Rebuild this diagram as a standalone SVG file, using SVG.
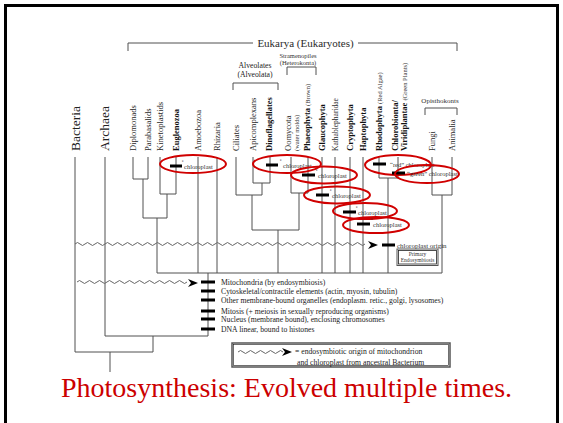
<svg xmlns="http://www.w3.org/2000/svg" width="563" height="423" viewBox="0 0 563 423">
  <defs>
    <style>
      .ln { fill: none; stroke: #505050; stroke-width: 1; }
      .wave { fill: none; stroke: #666; stroke-width: 1; }
      .bar { stroke: #000; stroke-width: 3; }
      .lab { font-family: "Liberation Serif", "Times New Roman", serif; font-size: 8.5px; fill: #2a2a2a; }
      .b { font-weight: bold; fill: #111; }
      .sm { font-family: "Liberation Serif", "Times New Roman", serif; font-size: 6.5px; fill: #333; }
      .big { font-family: "Liberation Serif", "Times New Roman", serif; font-size: 13.5px; fill: #222; }
      .note { font-family: "Liberation Serif", "Times New Roman", serif; font-size: 7.7px; fill: #222; }
      .ring { fill: none; stroke: #d00000; stroke-width: 2; }
      .head { fill: #000; }
    </style>
    <path id="arrowhead" d="M0,-4 L10,0 L0,4 L3,0 Z"/>
  </defs>

  <rect width="563" height="423" fill="#fff"/>
  <!-- slide frame -->
  <path d="M5.5,430 V5.5 H557.5 V430" fill="none" stroke="#000" stroke-width="3"/>

  <!-- clade brackets -->
  <g id="eukarya">
    <path class="ln" d="M128,51 V43 H253 M358,43 H457 V51" stroke-width="1.5"/>
    <text class="lab" x="305.5" y="47" text-anchor="middle" style="font-size:11px">Eukarya (Eukaryotes)</text>
  </g>
  <g id="alveolates">
    <path class="ln" d="M233,90 V83 H278 V90" stroke-width="1.5"/>
    <text class="note" x="255" y="68" text-anchor="middle">Alveolates</text>
    <text class="note" x="255" y="77" text-anchor="middle">(Alveolata)</text>
  </g>
  <g id="stramenopiles">
    <path class="ln" d="M287,75 V67 H316 V75" stroke-width="1.5"/>
    <text class="sm" x="298" y="57.5" text-anchor="middle">Stramenopiles</text>
    <text class="sm" x="298" y="64.5" text-anchor="middle">(Heterokonta)</text>
  </g>
  <g id="opisthokonts">
    <path class="ln" d="M425,115 V108 H457 V115" stroke-width="1.5"/>
    <text class="sm" x="440" y="103" text-anchor="middle" style="font-size:7px">Opisthokonts</text>
  </g>

  <!-- taxon labels, written bottom to top -->
  <g id="taxa">
    <g id="bacteria"><text class="big" transform="translate(80,151) rotate(-90)">Bacteria</text></g>
    <g id="archaea"><text class="big" transform="translate(109,151) rotate(-90)">Archaea</text></g>
    <g id="diplomonads"><text class="lab" transform="translate(135.5,151) rotate(-90)">Diplomonads</text></g>
    <g id="parabasalids"><text class="lab" transform="translate(150.5,151) rotate(-90)">Parabasalids</text></g>
    <g id="kinetoplastids"><text class="lab" transform="translate(162.5,151) rotate(-90)">Kinetoplastids</text></g>
    <g id="euglenozoa"><text class="lab b" transform="translate(178.5,151) rotate(-90)">Euglenozoa</text></g>
    <g id="amoebozoa"><text class="lab" transform="translate(200.5,151) rotate(-90)">Amoebozoa</text></g>
    <g id="rhizaria"><text class="lab" transform="translate(219.5,151) rotate(-90)">Rhizaria</text></g>
    <g id="ciliates"><text class="lab" transform="translate(238.5,151) rotate(-90)">Ciliates</text></g>
    <g id="apicomplexans"><text class="lab" transform="translate(255.5,151) rotate(-90)">Apicomplexans</text></g>
    <g id="dinoflagellates"><text class="lab b" transform="translate(272,151) rotate(-90)">Dinoflagellates</text></g>
    <g id="oomycota">
      <text class="lab" transform="translate(290.5,151) rotate(-90)">Oomycota</text>
      <text class="sm" transform="translate(299,151) rotate(-90)">(water molds)</text>
    </g>
    <g id="phaeophyta"><text class="lab b" transform="translate(309.5,151) rotate(-90)">Phaeophyta <tspan class="sm" style="font-weight:normal">(Brown)</tspan></text></g>
    <g id="glaucophyta"><text class="lab b" transform="translate(324.5,151) rotate(-90)">Glaucophyta</text></g>
    <g id="kathablepharidae"><text class="lab" transform="translate(337.5,151) rotate(-90)" style="font-size:7.5px">Kathablepharidae</text></g>
    <g id="cryptophyta"><text class="lab b" transform="translate(352.5,151) rotate(-90)">Cryptophyta</text></g>
    <g id="haptophyta"><text class="lab b" transform="translate(365.5,151) rotate(-90)">Haptophyta</text></g>
    <g id="rhodophyta"><text class="lab b" transform="translate(381.5,151) rotate(-90)">Rhodophyta <tspan class="sm" style="font-weight:normal">(Red Algae)</tspan></text></g>
    <g id="chlorobionta">
      <text class="lab b" transform="translate(398,151) rotate(-90)">Chlorobionta/</text>
      <text class="lab b" transform="translate(407,151) rotate(-90)">Viridiplantae <tspan class="sm" style="font-weight:normal">(Green Plants)</tspan></text>
    </g>
    <g id="fungi"><text class="lab" transform="translate(434.5,151) rotate(-90)">Fungi</text></g>
    <g id="animalia"><text class="lab" transform="translate(454.5,151) rotate(-90)">Animalia</text></g>
  </g>

  <!-- tree branches -->
  <g id="connectors">
    <path class="ln" d="
      M75,157 V352 H153 M110,352 V372
      M105,157 V336 H208 M153,336 V352
      M208,273 V336
      M133,157 V179 H148 V157 M143,179 V218
      M160,157 V194 H176 V157 M167,194 V218
      M143,218 H167 M157,218 V273
      M198,157 V273 M217,157 V273
      M253,157 V183 H270 V157 M262,183 V195
      M236,157 V195 H262 M252,195 V230
      M291,157 V193 H308 V157 M299,193 V230
      M252,230 H299 M278,230 V273
      M322,157 V273 M335,157 V273 M350,157 V273 M363,157 V273
      M379,157 V178 H398 V157 M388,178 V273
      M432,157 V195 H452 V157 M442,195 V273
      M157,273 H442"/>
  </g>

  <!-- endosymbiosis waves -->
  <g id="waves">
    <path class="wave" d="M75,244 q2.5,-3 5,0 t5,0 t5,0 t5,0 t5,0 t5,0 t5,0 t5,0 t5,0 t5,0 t5,0 t5,0 t5,0 t5,0 t5,0 t5,0 t5,0 t5,0 t5,0 t5,0 t5,0 t5,0 t5,0 t5,0 t5,0 t5,0 t5,0 t5,0 t5,0 t5,0 t5,0 t5,0 t5,0 t5,0 t5,0 t5,0 t5,0 t5,0 t5,0 t5,0 t5,0 t5,0 t5,0 t5,0 t5,0 t5,0 t5,0 t5,0 t5,0 t5,0 t5,0 t5,0 t5,0 t5,0 t5,0 t5,0 t5,0 t5,0"/>
    <use href="#arrowhead" class="head" transform="translate(368,245)"/>
    <path class="wave" d="M77,282 q2.5,-3 5,0 t5,0 t5,0 t5,0 t5,0 t5,0 t5,0 t5,0 t5,0 t5,0 t5,0 t5,0 t5,0 t5,0 t5,0 t5,0 t5,0 t5,0 t5,0 t5,0 t5,0 t5,0"/>
    <use href="#arrowhead" class="head" transform="translate(188,283)"/>
  </g>

  <!-- chloroplast origin -->
  <g id="chloroplast-origin">
    <line class="bar" x1="382" y1="245" x2="395" y2="245"/>
    <text class="sm" x="397" y="247.5" style="font-size:7px">chloroplast origin</text>
  </g>
  <g id="primary-endosymbiosis">
    <rect x="397" y="249" width="41" height="16.5" fill="#fff" stroke="#555" stroke-width="1"/>
    <rect x="398.5" y="250.5" width="38" height="13.5" fill="none" stroke="#222" stroke-width="0.8"/>
    <text class="sm" x="417.5" y="256" text-anchor="middle" style="font-size:5.5px">Primary</text>
    <text class="sm" x="417.5" y="262" text-anchor="middle" style="font-size:5.5px">Endosymbiosis</text>
  </g>

  <!-- chloroplast gains, ringed -->
  <g id="cp-euglenozoa">
    <line class="bar" x1="170" y1="166" x2="182" y2="166"/>
    <text class="sm" x="184" y="169">chloroplast</text>
    <text class="sm" x="182" y="162" style="font-size:4.5px">e</text>
    <ellipse class="ring" cx="193" cy="164" rx="33" ry="9"/>
  </g>
  <g id="cp-dinoflagellates">
    <line class="bar" x1="266" y1="165" x2="278" y2="165"/>
    <text class="sm" x="283" y="168">chloroplast</text>
    <text class="sm" x="280" y="161" style="font-size:4.5px">e</text>
    <ellipse class="ring" cx="287" cy="164" rx="34" ry="9"/>
  </g>
  <g id="cp-phaeophyta">
    <line class="bar" x1="302" y1="175" x2="315" y2="175"/>
    <text class="sm" x="318" y="178">chloroplast</text>
    <text class="sm" x="316" y="171" style="font-size:4.5px">e</text>
    <ellipse class="ring" cx="324" cy="175" rx="33" ry="8.5"/>
  </g>
  <g id="cp-glaucophyta">
    <line class="bar" x1="316" y1="195" x2="329" y2="195"/>
    <text class="sm" x="332" y="198">chloroplast</text>
    <text class="sm" x="330" y="191" style="font-size:4.5px">e</text>
    <ellipse class="ring" cx="337" cy="195" rx="33" ry="8.5"/>
  </g>
  <g id="cp-cryptophyta">
    <line class="bar" x1="343" y1="212" x2="356" y2="212"/>
    <text class="sm" x="358" y="215">chloroplast</text>
    <text class="sm" x="356" y="208" style="font-size:4.5px">e</text>
    <ellipse class="ring" cx="365" cy="211" rx="32" ry="8"/>
  </g>
  <g id="cp-haptophyta">
    <line class="bar" x1="357" y1="224" x2="370" y2="224"/>
    <text class="sm" x="373" y="227">chloroplast</text>
    <text class="sm" x="371" y="220" style="font-size:4.5px">e</text>
    <ellipse class="ring" cx="376" cy="225" rx="33" ry="8"/>
  </g>
  <g id="cp-rhodophyta">
    <line class="bar" x1="373" y1="164" x2="386" y2="164"/>
    <text class="sm" x="390" y="167">“red” chloroplast</text>
    <ellipse class="ring" cx="398" cy="165" rx="33" ry="10"/>
  </g>
  <g id="cp-chlorobionta">
    <line class="bar" x1="392" y1="173" x2="405" y2="173"/>
    <text class="sm" x="407" y="176">“green” chloroplast</text>
    <ellipse class="ring" cx="427" cy="174" rx="32" ry="9"/>
  </g>

  <!-- eukaryote traits on the stem -->
  <g id="traits">
    <line class="bar" x1="201" y1="282" x2="215" y2="282"/>
    <line class="bar" x1="201" y1="291" x2="215" y2="291"/>
    <line class="bar" x1="201" y1="300" x2="215" y2="300"/>
    <line class="bar" x1="201" y1="311" x2="215" y2="311"/>
    <line class="bar" x1="201" y1="319" x2="215" y2="319"/>
    <line class="bar" x1="201" y1="329" x2="215" y2="329"/>
    <text class="note" x="221" y="285">Mitochondria (by endosymbiosis)</text>
    <text class="note" x="221" y="294">Cytoskeletal/contractile elements (actin, myosin, tubulin)</text>
    <text class="note" x="221" y="303">Other membrane-bound organelles (endoplasm. retic., golgi, lysosomes)</text>
    <text class="note" x="221" y="313.5">Mitosis (+ meiosis in sexually reproducing organisms)</text>
    <text class="note" x="221" y="322">Nucleus (membrane bound), enclosing chromosomes</text>
    <text class="note" x="221" y="331.5">DNA linear, bound to histones</text>
  </g>

  <!-- legend -->
  <g id="legend">
    <rect x="232" y="343" width="218" height="24" fill="#fff" stroke="#555" stroke-width="1.5"/>
    <rect x="233.5" y="344.5" width="215" height="21" fill="none" stroke="#111" stroke-width="0.6"/>
    <path class="wave" d="M238,352 q2.5,-3 5,0 t5,0 t5,0 t5,0 t5,0 t5,0 t5,0 t5,0 t5,0"/>
    <use href="#arrowhead" class="head" transform="translate(282,352)"/>
    <text class="note" x="295" y="354">= endosymbiotic origin of mitochondrion</text>
    <text class="note" x="297" y="364.5">and chloroplast from ancestral Bacterium</text>
  </g>

  <!-- slide title -->
  <text x="61" y="397" font-family="'Liberation Serif', 'Times New Roman', serif" font-size="28" fill="#cc0000">Photosynthesis: Evolved multiple times.</text>
</svg>
